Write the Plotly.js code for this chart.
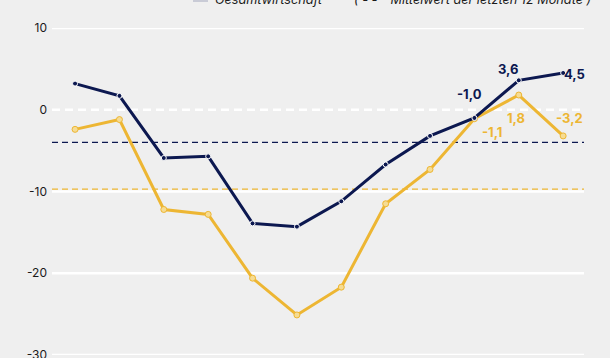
<!DOCTYPE html>
<html>
<head>
<meta charset="utf-8">
<script src="https://cdn.plot.ly/plotly-3.0.1.min.js"></script>
<style>html,body{margin:0;padding:0;background:#efefef;}#chart{width:610px;height:358px;}</style>
</head>
<body>
<div id="chart"></div>
<script>
// Data
const months = [1, 2, 3, 4, 5, 6, 7, 8, 9, 10, 11, 12];
const gesamt = [3.2, 1.7, -5.9, -5.7, -13.9, -14.3, -11.2, -6.7, -3.2, -1.0, 3.6, 4.5];
const branche = [-2.4, -1.2, -12.2, -12.8, -20.6, -25.1, -21.7, -11.5, -7.3, -1.1, 1.8, -3.2];
const gesamtMean = -4.0;
const brancheMean = -9.7;
const yTicks = [10, 0, -10, -20, -30];
const yTickText = ['10', '0', '-10', '-20', '-30'];
const legendLabels = ['Gesamtwirtschaft', '( - - - Mittelwert der letzten 12 Monate )'];
// label texts for last three points
const gesamtLabels = ['-1,0', '3,6', '4,5'];
const brancheLabels = ['-1,1', '1,8', '-3,2'];

const NAVY = '#0c1850';
const YELLOW = '#edb633';
const BG = '#efefef';

const traces = [
  {x: months, y: branche, type: 'scatter', mode: 'lines+markers',
   line: {color: YELLOW, width: 3},
   marker: {size: 6, color: '#f6dc93', line: {color: YELLOW, width: 1}},
   hoverinfo: 'skip'},
  {x: months, y: gesamt, type: 'scatter', mode: 'lines+markers',
   line: {color: NAVY, width: 3},
   marker: {size: 5, color: NAVY, line: {color: '#ffffff', width: 1}},
   hoverinfo: 'skip'}
];

const shapes = [];
// gridlines (solid) except zero
yTicks.forEach(v => {
  if (v === 0) return;
  shapes.push({type: 'line', xref: 'paper', x0: 0, x1: 1, yref: 'y', y0: v, y1: v,
    line: {color: '#ffffff', width: 2.5}, layer: 'below'});
});
// zero line dashed white
shapes.push({type: 'line', xref: 'paper', x0: 0, x1: 1, yref: 'y', y0: 0, y1: 0,
  line: {color: '#ffffff', width: 2.5, dash: '8px,5px'}, layer: 'below'});
// mean lines
shapes.push({type: 'line', xref: 'paper', x0: 0, x1: 1, yref: 'y', y0: gesamtMean, y1: gesamtMean,
  line: {color: NAVY, width: 1.3, dash: '6px,4px'}, layer: 'below'});
shapes.push({type: 'line', xref: 'paper', x0: 0, x1: 1, yref: 'y', y0: brancheMean, y1: brancheMean,
  line: {color: YELLOW, width: 1.3, dash: '6px,4px'}, layer: 'below'});
// legend swatch (cut off at the top)
shapes.push({type: 'line', xref: 'paper', yref: 'paper',
  x0: (193 - 52) / 532, x1: (208 - 52) / 532, y0: 1 + 27.5 / 327, y1: 1 + 27.5 / 327,
  line: {color: '#c9cbd6', width: 3}});

const n = months.length;
const annotations = [];
const lblFont = (c) => ({family: 'Inter, "Open Sans", sans-serif', size: 13, color: c, weight: 700});
// Gesamt labels
annotations.push({x: months[n - 3], y: gesamt[n - 3], text: gesamtLabels[0], showarrow: false,
  xshift: -5, yshift: 24, font: lblFont(NAVY)});
annotations.push({x: months[n - 2], y: gesamt[n - 2], text: gesamtLabels[1], showarrow: false,
  xshift: -10, yshift: 11, font: lblFont(NAVY)});
annotations.push({x: months[n - 1], y: gesamt[n - 1], text: gesamtLabels[2], showarrow: false,
  xanchor: 'left', xshift: -1, yshift: -1, font: lblFont(NAVY)});
// Branche labels
annotations.push({x: months[n - 3], y: branche[n - 3], text: brancheLabels[0], showarrow: false,
  xshift: 18, yshift: -13, font: lblFont(YELLOW)});
annotations.push({x: months[n - 2], y: branche[n - 2], text: brancheLabels[1], showarrow: false,
  xshift: -3, yshift: -23, font: lblFont(YELLOW)});
annotations.push({x: months[n - 1], y: branche[n - 1], text: brancheLabels[2], showarrow: false,
  xshift: 6, yshift: 18, font: lblFont(YELLOW)});
// legend text (cut off at the top, as in the source picture)
const legFont = {family: 'Inter, "Open Sans", sans-serif', size: 12.7, color: '#1a1a1a', style: 'italic'};
annotations.push({xref: 'paper', yref: 'paper', x: (213 - 52) / 532, y: 1 + 28.5 / 327,
  xanchor: 'left', yanchor: 'middle', text: legendLabels[0], showarrow: false, font: legFont});
annotations.push({xref: 'paper', yref: 'paper', x: (352 - 52) / 532, y: 1 + 28.5 / 327,
  xanchor: 'left', yanchor: 'middle', text: legendLabels[1], showarrow: false, font: legFont});

const layout = {
  width: 610, height: 358,
  margin: {l: 52, r: 26, t: 28, b: 3, pad: 0},
  paper_bgcolor: BG, plot_bgcolor: BG,
  showlegend: false,
  xaxis: {range: [months[0] - 0.52, months[n - 1] + 0.47], showgrid: false, zeroline: false,
    showticklabels: false, showline: false, fixedrange: true},
  yaxis: {range: [-30, 10], tickvals: yTicks, ticktext: yTickText, showgrid: false, zeroline: false,
    ticks: '', ticklabelstandoff: 4, showline: false, ticklabeloverflow: 'allow',
    tickfont: {family: 'Inter, "Open Sans", sans-serif', size: 12, color: '#1a1a1a'}},
  shapes: shapes,
  annotations: annotations
};

Plotly.newPlot('chart', traces, layout, {displayModeBar: false, staticPlot: true});
</script>
</body>
</html>
